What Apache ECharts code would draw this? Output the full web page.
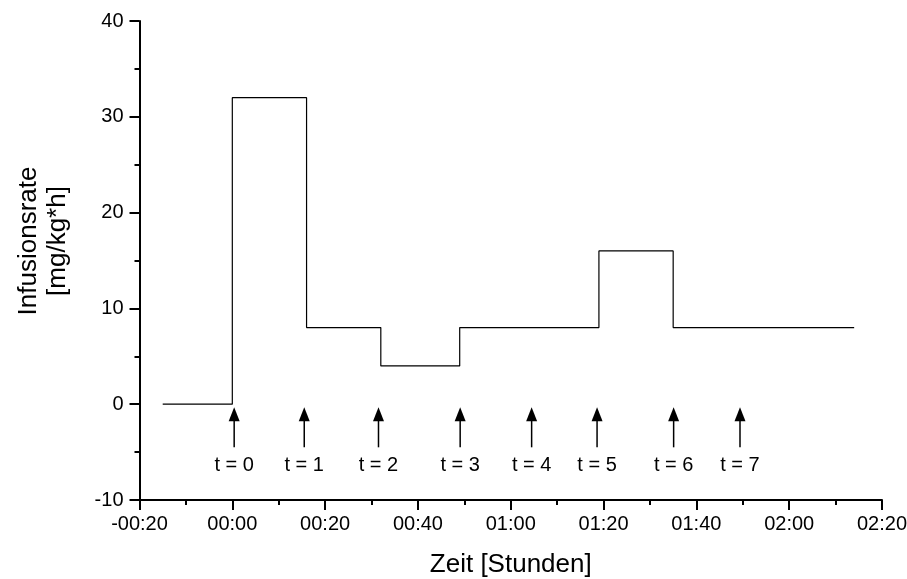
<!DOCTYPE html>
<html>
<head>
<meta charset="utf-8">
<script src="https://cdn.jsdelivr.net/npm/echarts@6/dist/echarts.min.js"></script>
<style>
  html, body { margin: 0; padding: 0; background: #fff; }
  #chart { width: 907px; height: 579px; }
</style>
</head>
<body>
<div id="chart"></div>
<script>
// Infusion schedule: time of each rate change (minutes) and the new rate (mg/kg*h)
const changeTimes = [-15, 0, 16, 32, 49, 79, 95, 134];
const infusionRates = [0, 32, 8, 4, 8, 16, 8, 8];

// Sampling moments marked with arrows (minutes) and their labels
const sampleTimes = [0.4, 15.5, 31.5, 49.1, 64.5, 78.6, 95.1, 109.4];
const sampleLabels = ['t = 0', 't = 1', 't = 2', 't = 3', 't = 4', 't = 5', 't = 6', 't = 7'];

// Axis tick labels
const xTickLabels = ['-00:20', '00:00', '00:20', '00:40', '01:00', '01:20', '01:40', '02:00', '02:20'];
const yTickLabels = ['-10', '0', '10', '20', '30', '40'];

const FONT = 'Liberation Sans, Arial, sans-serif';

// Arrow geometry in axis units (y) and pixels (head)
const ARROW_TIP = -0.33;
const ARROW_BASE = -4.5;
const LABEL_Y = -6.37;
const HEAD_LEN = 14;
const HEAD_HALF = 5.5;

const stepData = changeTimes.map((t, i) => [t, infusionRates[i]]);
const arrowData = sampleTimes.map((t, i) => [t, i]);

const chart = echarts.init(document.getElementById('chart'), null, { renderer: 'canvas' });

chart.setOption({
  backgroundColor: '#ffffff',
  animation: false,
  grid: { left: 139.5, right: 25, top: 21, bottom: 79, containLabel: false, outerBoundsMode: 'none' },
  graphic: [
    {
      type: 'text',
      x: 43,
      y: 241,
      rotation: Math.PI / 2,
      style: {
        text: 'Infusionsrate\n[mg/kg*h]',
        fontFamily: FONT,
        fontSize: 26,
        lineHeight: 29,
        fill: '#000',
        align: 'center',
        verticalAlign: 'middle'
      }
    }
  ],
  xAxis: {
    type: 'value',
    min: -20,
    max: 140,
    interval: 20,
    name: 'Zeit [Stunden]',
    nameLocation: 'middle',
    nameGap: 52,
    nameTextStyle: { fontFamily: FONT, fontSize: 26, color: '#000' },
    axisLine: { onZero: false, lineStyle: { color: '#000', width: 2 } },
    axisTick: { show: true, inside: false, length: 10, lineStyle: { color: '#000', width: 2 } },
    minorTick: { show: true, splitNumber: 2, length: 5, lineStyle: { color: '#000', width: 2 } },
    axisLabel: {
      margin: 14,
      fontFamily: FONT,
      fontSize: 20,
      color: '#000',
      formatter: v => xTickLabels[Math.round((v + 20) / 20)]
    },
    splitLine: { show: false }
  },
  yAxis: {
    type: 'value',
    min: -10,
    max: 40,
    interval: 10,
    axisLine: { show: true, onZero: false, lineStyle: { color: '#000', width: 2 } },
    axisTick: { show: true, inside: false, length: 10, lineStyle: { color: '#000', width: 2 } },
    minorTick: { show: true, splitNumber: 2, length: 5, lineStyle: { color: '#000', width: 2 } },
    axisLabel: {
      margin: 16,
      fontFamily: FONT,
      fontSize: 20,
      color: '#000',
      formatter: v => yTickLabels[Math.round((v + 10) / 10)]
    },
    splitLine: { show: false }
  },
  series: [
    {
      type: 'line',
      step: 'end',
      data: stepData,
      showSymbol: false,
      symbol: 'none',
      lineStyle: { color: '#000', width: 1.2 },
      z: 3
    },
    {
      type: 'custom',
      data: arrowData,
      z: 4,
      renderItem: (params, api) => {
        const t = api.value(0);
        const idx = api.value(1);
        const tip = api.coord([t, ARROW_TIP]);
        const base = api.coord([t, ARROW_BASE]);
        const lab = api.coord([t, LABEL_Y]);
        return {
          type: 'group',
          children: [
            {
              type: 'line',
              shape: { x1: base[0], y1: base[1], x2: tip[0], y2: tip[1] + HEAD_LEN - 1 },
              style: { stroke: '#000', lineWidth: 1.5 }
            },
            {
              type: 'polygon',
              shape: {
                points: [
                  [tip[0], tip[1]],
                  [tip[0] - HEAD_HALF, tip[1] + HEAD_LEN],
                  [tip[0] + HEAD_HALF, tip[1] + HEAD_LEN]
                ]
              },
              style: { fill: '#000' }
            },
            {
              type: 'text',
              x: lab[0],
              y: lab[1],
              style: {
                text: sampleLabels[idx],
                fontFamily: FONT,
                fontSize: 20,
                fill: '#000',
                align: 'center',
                verticalAlign: 'middle'
              }
            }
          ]
        };
      }
    }
  ]
});
</script>
</body>
</html>
